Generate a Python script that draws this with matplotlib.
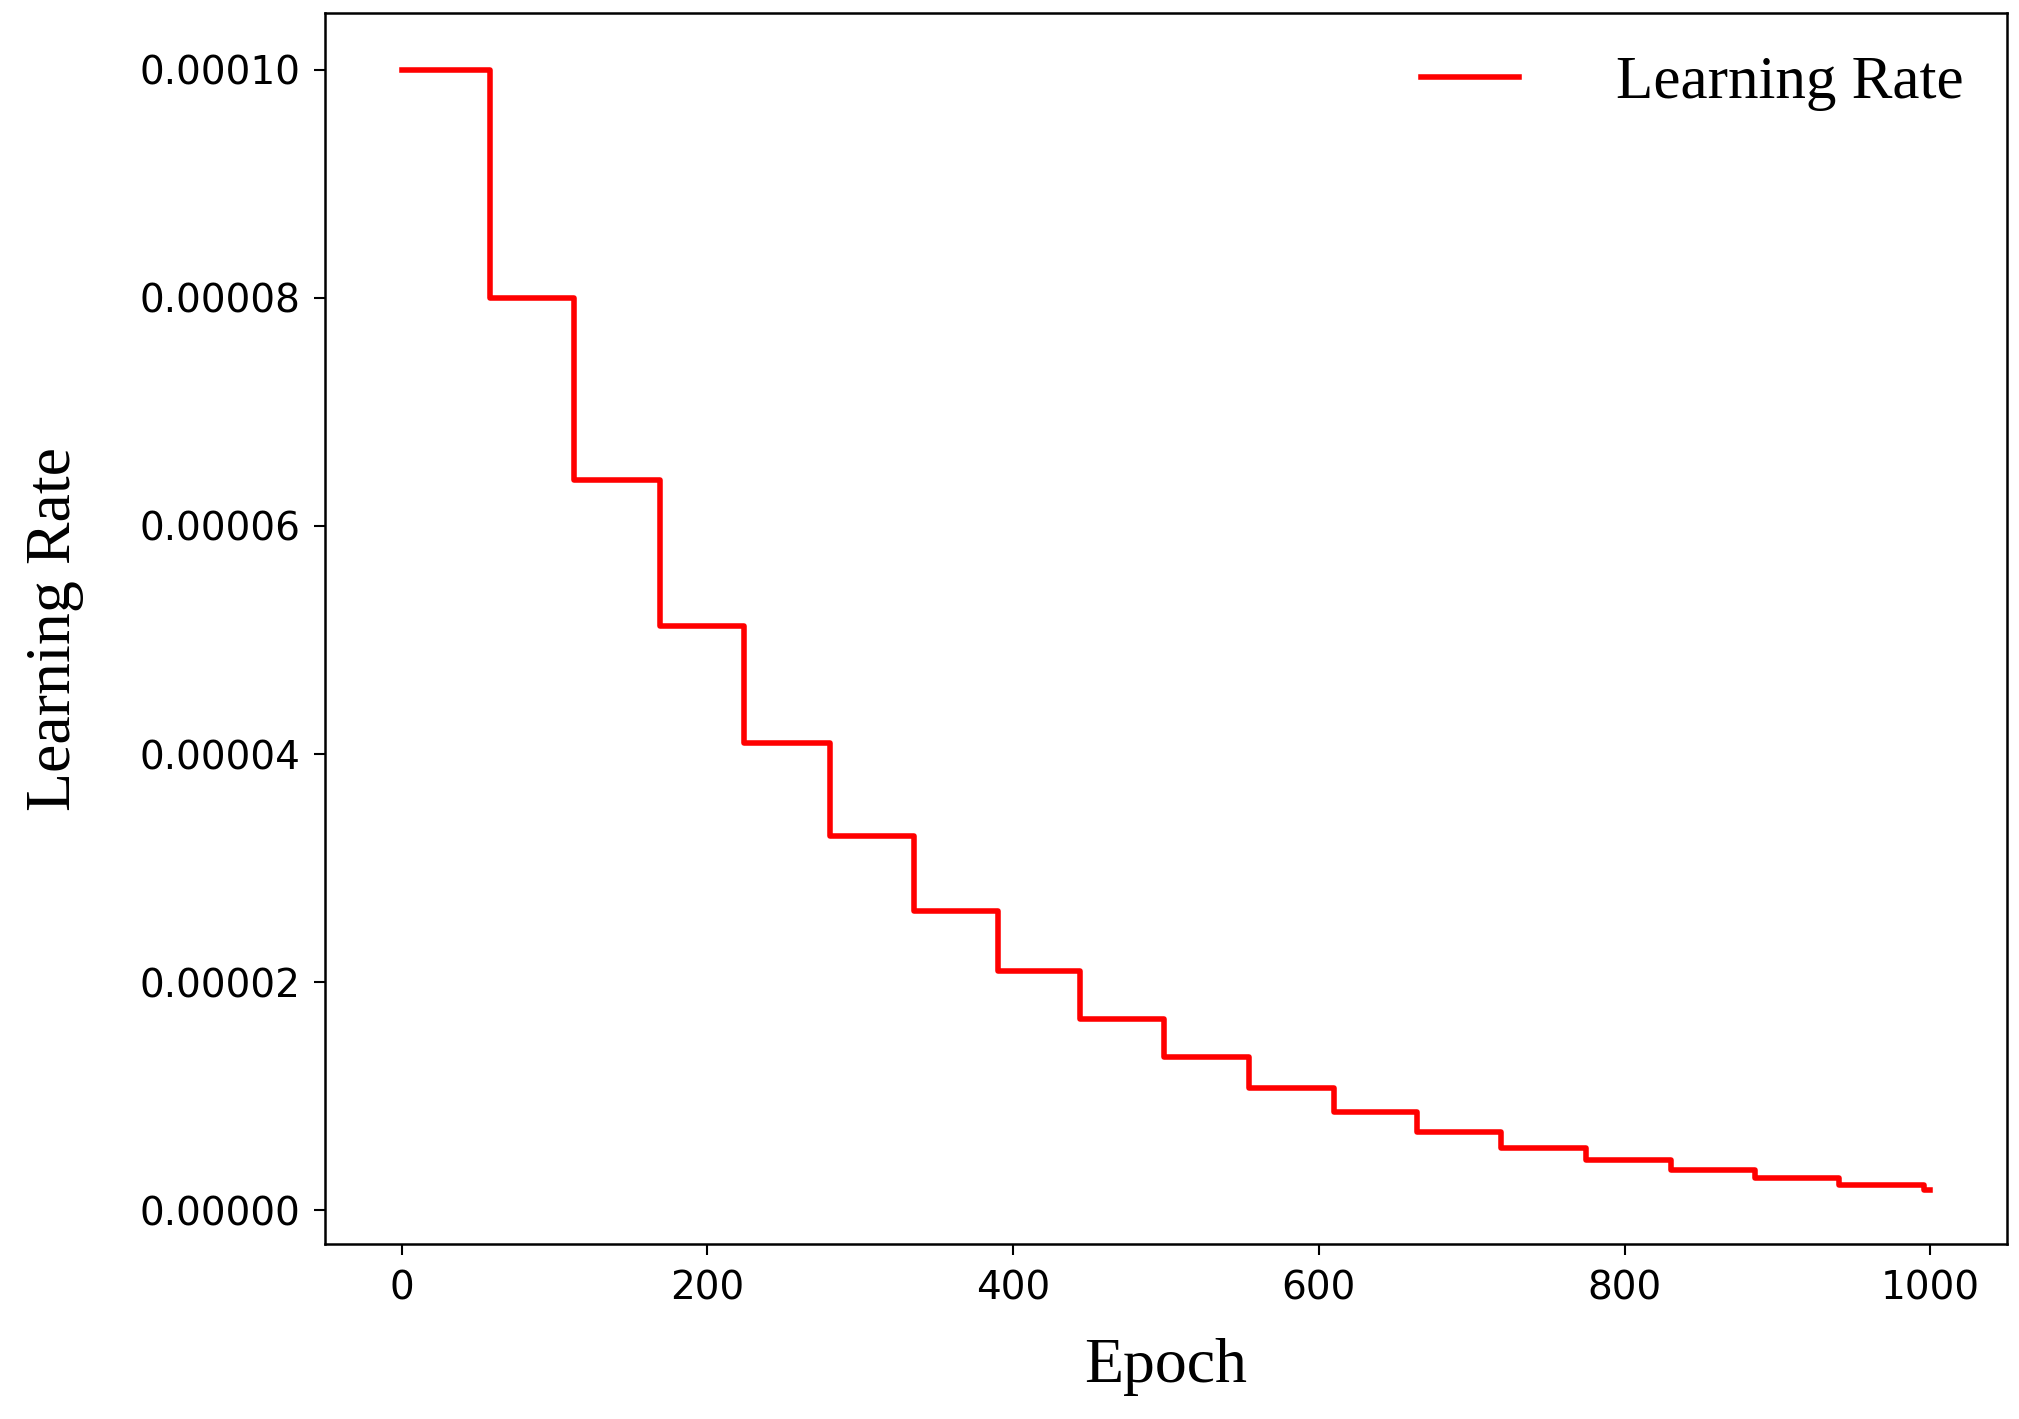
import matplotlib
matplotlib.use("Agg")
import matplotlib.pyplot as plt

step_epochs = [0, 58, 113, 169, 224, 280, 335, 390, 444, 499, 554, 610, 664, 719, 775, 830, 885, 940, 996, 1000]
lr_values = [1.0e-4, 8.0e-5, 6.4e-5, 5.12e-5, 4.1e-5, 3.28e-5, 2.62e-5, 2.1e-5, 1.68e-5,
             1.34e-5, 1.07e-5, 8.6e-6, 6.9e-6, 5.5e-6, 4.4e-6, 3.5e-6, 2.8e-6, 2.25e-6, 1.8e-6, 1.8e-6]
x_ticks = [0, 200, 400, 600, 800, 1000]
y_ticks = [0.0, 0.00002, 0.00004, 0.00006, 0.00008, 0.00010]

fig = plt.figure(figsize=(20.19, 14.19), dpi=100)
ax = fig.add_axes([0.161, 0.123, 0.833, 0.868])
ax.step(step_epochs, lr_values, where='post', color='red', lw=4, label='Learning Rate')
ax.set_xlim(-50, 1050)
ax.set_ylim(-0.000003, 0.000105)
ax.set_xticks(x_ticks)
ax.set_yticks(y_ticks)
ax.set_yticklabels([f"{v:.5f}" for v in y_ticks])
ax.tick_params(labelsize=28, length=8, width=1.5, pad=10)
for s in ax.spines.values():
    s.set_linewidth(1.8)
ax.set_xlabel('Epoch', family='Liberation Serif', fontsize=46, labelpad=22)
ax.set_ylabel('Learning Rate', family='Liberation Serif', fontsize=46, labelpad=40)
ax.legend(loc='upper right', frameon=False, prop={'family': 'Liberation Serif', 'size': 44},
          handlelength=1.6, handletextpad=1.6, borderaxespad=0.3)
fig.savefig('out.png', dpi=100)
